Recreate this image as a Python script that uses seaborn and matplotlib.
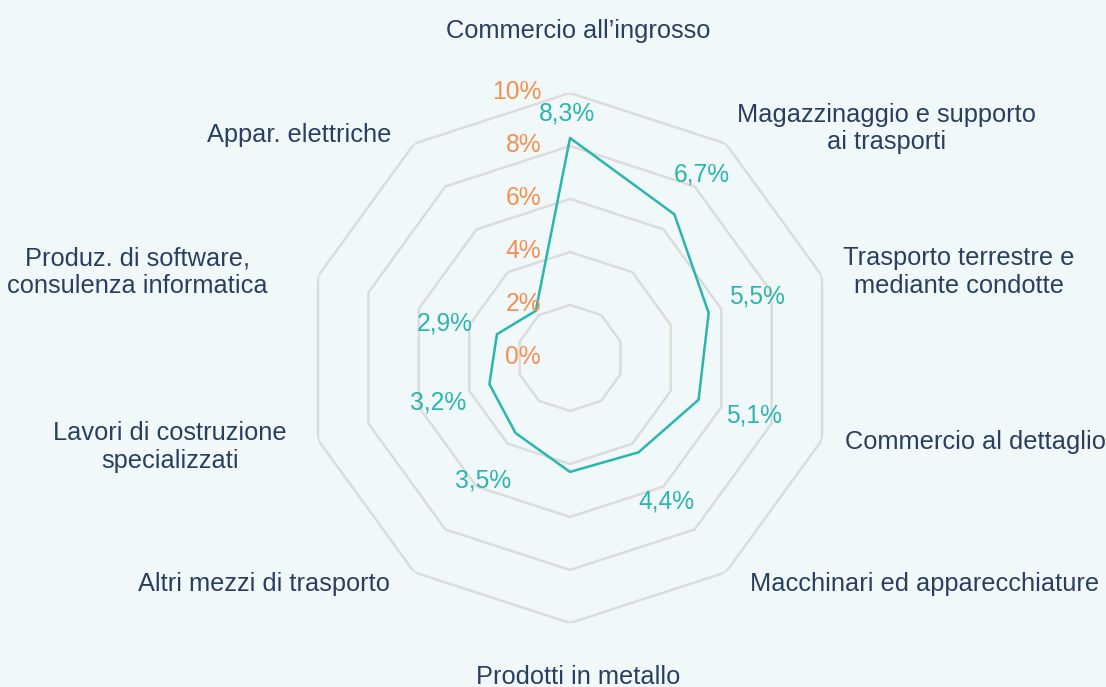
import numpy as np
import pandas as pd
import matplotlib
matplotlib.use("Agg")
import matplotlib.pyplot as plt
import seaborn as sns

# ---------------- data ----------------
categories = [
    "Commercio all’ingrosso",
    "Magazzinaggio e supporto\nai trasporti",
    "Trasporto terrestre e\nmediante condotte",
    "Commercio al dettaglio",
    "Macchinari ed apparecchiature",
    "Prodotti in metallo",
    "Altri mezzi di trasporto",
    "Lavori di costruzione\nspecializzati",
    "Produz. di software,\nconsulenza informatica",
    "Appar. elettriche",
]
values = [8.3, 6.7, 5.5, 5.1, 4.4, 4.3, 3.5, 3.2, 2.9, 2.2]
show_value_label = [True, True, True, True, True, False, True, True, True, False]
r_ticks = [0, 2, 4, 6, 8, 10]
r_tick_labels = ["0%", "2%", "4%", "6%", "8%", "10%"]

# ---------------- style ----------------
BG = "#F1F8FA"
TEAL = "#2BB5AC"
ORANGE = "#F39050"
NAVY = "#2A3F5F"
GRID = "#DCDCDC"

sns.set_theme(style="white")
plt.rcParams["font.family"] = ["Liberation Sans", "DejaVu Sans"]

fig = plt.figure(figsize=(11.06, 6.87), dpi=100, facecolor=BG)
ax = fig.add_axes([0.2758, 0.0932, 0.4792, 0.7715], projection="polar")
ax.set_facecolor(BG)
ax.set_theta_zero_location("N")
ax.set_theta_direction(-1)

n = len(categories)
theta = np.arange(n) * 2 * np.pi / n
theta_closed = np.append(theta, 2 * np.pi)

# polygon grid
for r in r_ticks[1:]:
    ax.plot(theta_closed, [r] * (n + 1), color=GRID, lw=1.8, zorder=1,
            solid_joinstyle="miter")

df = pd.DataFrame({"theta": theta_closed, "value": values + [values[0]]})
sns.lineplot(data=df, x="theta", y="value", sort=False, estimator=None,
             color=TEAL, lw=1.8, ax=ax, zorder=3)

ax.set_ylim(0, 10)
ax.grid(False)
ax.spines["polar"].set_visible(False)
ax.set_xticks([])
ax.set_yticks([])
ax.set_xlabel("")
ax.set_ylabel("")

# radial tick labels
for r, lab in zip(r_ticks, r_tick_labels):
    ax.annotate(lab, xy=(0, r), xytext=(-29, 1), textcoords="offset pixels",
                ha="right", va="center", color=ORANGE, fontsize=17.7, zorder=4)

# value labels (layout offsets in pixels: dx, dy downward)
val_offsets = [(-3, -25), (27, -40), (48, -16), (55, 16), (28, 49),
               (0, 40), (-32, 48), (-51, 18), (-52, -11), (-40, -30)]
for th, v, show, (dx, dy) in zip(theta, values, show_value_label, val_offsets):
    if not show:
        continue
    txt = f"{v:.1f}%".replace(".", ",")
    ax.annotate(txt, xy=(th, v), xytext=(dx, -dy), textcoords="offset pixels",
                ha="center", va="center", color=TEAL, fontsize=17.7, zorder=5)

# category labels
cat_layout = [((8, -62), "center"), ((11, -15), "left"), ((21, -4), "left"),
              ((23, 2), "left"), ((24, 12), "left"), ((8, 54), "center"),
              ((-24, 12), "right"), ((-31, 7), "right"), ((-50, -4), "right"),
              ((-23, -9), "right")]
for th, cat, ((dx, dy), ha) in zip(theta, categories, cat_layout):
    ax.annotate(cat, xy=(th, 10), xytext=(dx, -dy), textcoords="offset pixels",
                ha=ha, va="center", multialignment="center", color=NAVY,
                fontsize=18.3, linespacing=1.2, annotation_clip=False)

fig.savefig("out.png", dpi=100, facecolor=BG)
